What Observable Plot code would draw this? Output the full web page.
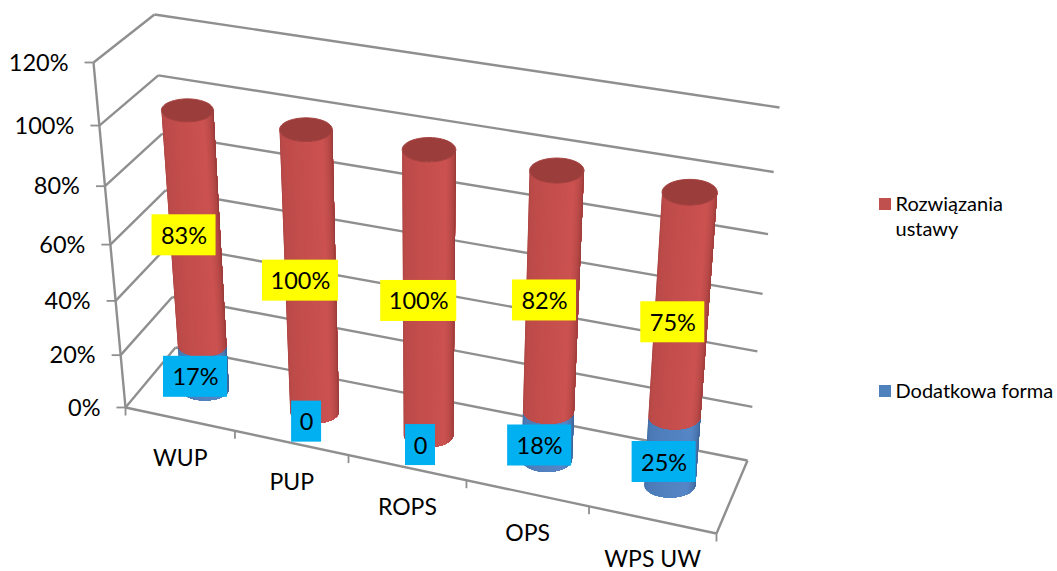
<!DOCTYPE html>
<html><head><meta charset="utf-8">
<style>html,body{margin:0;padding:0;background:#fff}svg{display:block}</style>
<script src="https://cdn.jsdelivr.net/npm/d3@7"></script>
<script src="https://cdn.jsdelivr.net/npm/@observablehq/plot@0.6"></script>
</head><body><div id="c"></div>
<script>
const categories = ["WUP", "PUP", "ROPS", "OPS", "WPS UW"];
const rozwiazania = [83, 100, 100, 82, 75];
const dodatkowa = [17, 0, 0, 18, 25];
const dodatkowaLabels = ["17%", "0", "0", "18%", "25%"];
const percentTicks = [0, 20, 40, 60, 80, 100, 120];
const legendItems = [["Rozwiązania", "ustawy"], ["Dodatkowa forma"]];

// 3D view of the chart box: corners of the floor and of the top plane
const box = {
  fl: [125, 407], fr: [716, 533], bl: [175, 347], br: [747, 460],
  tfl: [93, 62], tfr: [745, 166], tbl: [154, 14], tbr: [779, 107]
};
const lerp = (a, b, t) => [a[0] + (b[0] - a[0]) * t, a[1] + (b[1] - a[1]) * t];
const persp = (t, k) => t / (1 + k * (1 - t));
function project(u, w, pct) {
  const U = persp(u, 0.1), V = persp(pct / 120, 0.118);
  const floor = lerp(lerp(box.fl, box.fr, U), lerp(box.bl, box.br, U), w);
  const top = lerp(lerp(box.tfl, box.tfr, U), lerp(box.tbl, box.tbr, U), w);
  return lerp(floor, top, V);
}
const link = (a, b) => ({x1: a[0], y1: a[1], x2: b[0], y2: b[1]});
const colU = (i) => (i + 0.5) / categories.length;
const DEPTH = 0.49;
const COL_DX = 1.5;

// gridlines, walls, axes
const backGrid = percentTicks.map(p => link(project(0, 1, p), project(1, 1, p)));
const sideGrid = percentTicks.map(p => link(project(0, 0, p), project(0, 1, p)));
const axisLines = [
  link(project(0, 0, 0), project(0, 0, 120)),
  link(project(0, 0, 0), project(1, 0, 0)),
  link(project(1, 0, 0), project(1, 1, 0))
];
const yTicks = percentTicks.map(p => {
  const a = project(0, 0, p);
  return link([a[0] - 9, a[1]], a);
});
const xTicks = d3.range(categories.length + 1).map(i => {
  const a = project(i / categories.length, 0, 0);
  return link(a, [a[0], a[1] + 8]);
});
const yLabels = percentTicks.map(p => {
  const a = project(0, 0, p);
  return {x: a[0] - 25, y: a[1] + 0.5, text: p + "%"};
});
const xLabels = categories.map((c, i) => {
  const a = project(colU(i), 0, 0);
  return {x: a[0] + 0.5, y: a[1] + 40, text: c};
});

// cylinders
const redShade = d3.scaleLinear().domain([0, .12, .5, .72, .9, 1])
  .range(["#a84543", "#ba4a48", "#c64f4d", "#cb5250", "#ab4341", "#843533"]);
const blueShade = d3.scaleLinear().domain([0, .12, .5, .72, .9, 1])
  .range(["#3f6a9e", "#4a79b4", "#5282c0", "#5686c6", "#456fa5", "#345680"]);
const STRIPS = 32;
function ring(i, pct) {
  const [cx, cy] = project(colU(i), DEPTH, pct);
  return {cx: cx + COL_DX, cy, rx: 24 + 0.4 * i + 2 * pct / 100, ry: 11.5 + 0.35 * i};
}
const stripsData = [];
const capsData = [];
let nextId = 0;
// Each strip runs from its left edge to the column's right edge and the next
// strip paints over it, so no seams show between neighbouring strips.
function addSegment(i, p0, p1, shade) {
  if (p1 <= p0) return;
  const a = ring(i, p0), b = ring(i, p1);
  for (let s = 0; s < STRIPS; s++) {
    const color = shade((s + 0.5) / STRIPS);
    const id = nextId++;
    const ths = d3.range(s, STRIPS + 1).map(k => Math.PI * (1 - k / STRIPS));
    for (const th of ths) stripsData.push({id, color, x: a.cx + a.rx * Math.cos(th), y: a.cy + a.ry * Math.sin(th)});
    for (const th of ths.slice().reverse()) stripsData.push({id, color, x: b.cx + b.rx * Math.cos(th), y: b.cy + b.ry * Math.sin(th)});
  }
}
categories.forEach((c, i) => {
  addSegment(i, 0, dodatkowa[i], blueShade);
  addSegment(i, dodatkowa[i], dodatkowa[i] + rozwiazania[i], redShade);
  const r = ring(i, dodatkowa[i] + rozwiazania[i]);
  d3.range(49).forEach(k => {
    const th = 2 * Math.PI * k / 48;
    capsData.push({id: i, x: r.cx + r.rx * Math.cos(th), y: r.cy + r.ry * Math.sin(th)});
  });
});

// data labels: centred on their segment, with the hand placement of the original
const redNudge = [2, 2.5, 1, 4, 13];
const redNudgeX = [-3, -2, -2, 0, -1];
const blueNudge = [8.5, 9, 9, 9, 10];
function labelBox(i, text, mid, nudge, nudgeX = 0) {
  const a = project(colU(i), DEPTH, mid);
  const half = text.length >= 4 ? 38 : text.length === 3 ? 32 : 15;
  const cx = a[0] - 6.5 + nudgeX, cy = a[1] + 1 + nudge;
  return {x1: cx - half, x2: cx + half, y1: cy - 20.5, y2: cy + 20.5, x: cx, y: cy + 1, text};
}
const redLabels = categories.map((c, i) => labelBox(i, rozwiazania[i] + "%", dodatkowa[i] + rozwiazania[i] / 2, redNudge[i], redNudgeX[i]));
const blueLabels = categories.map((c, i) => labelBox(i, dodatkowaLabels[i], dodatkowa[i] > 0 ? dodatkowa[i] / 2 : 0, blueNudge[i]));

const FONT = "Lato";
const gridStyle = {stroke: "#8f8f8f", strokeWidth: 2.4, imageFilter: "blur(0.5px)"};
const px = [0, 1057], py = [0, 571];

const chart = Plot.plot({
  width: 1057, height: 571, margin: 0,
  x: {domain: px, range: px, axis: null},
  y: {domain: py, range: py, axis: null},
  color: {type: "identity"},
  style: {background: "#fff", fontFamily: FONT},
  marks: [
    Plot.link(backGrid, {x1: "x1", y1: "y1", x2: "x2", y2: "y2", ...gridStyle}),
    Plot.link(sideGrid, {x1: "x1", y1: "y1", x2: "x2", y2: "y2", ...gridStyle}),
    Plot.link(axisLines, {x1: "x1", y1: "y1", x2: "x2", y2: "y2", ...gridStyle}),
    Plot.link(yTicks, {x1: "x1", y1: "y1", x2: "x2", y2: "y2", ...gridStyle, strokeWidth: 1.8}),
    Plot.link(xTicks, {x1: "x1", y1: "y1", x2: "x2", y2: "y2", ...gridStyle, strokeWidth: 1.8}),
    Plot.line(stripsData, {x: "x", y: "y", z: "id", fill: "color", stroke: "none", curve: "linear", imageFilter: "blur(0.6px)"}),
    Plot.line(capsData, {x: "x", y: "y", z: "id", fill: "#9a3d3b", stroke: "#a54240", strokeWidth: 1, curve: "linear", imageFilter: "blur(0.5px)"}),
    Plot.rect(redLabels, {x1: "x1", x2: "x2", y1: "y1", y2: "y2", fill: "#ffff00"}),
    Plot.rect(blueLabels, {x1: "x1", x2: "x2", y1: "y1", y2: "y2", fill: "#00b0f0"}),
    Plot.text(redLabels, {x: "x", y: "y", text: "text", fontSize: 23.5, fill: "#000", fontFamily: FONT}),
    Plot.text(blueLabels, {x: "x", y: "y", text: "text", fontSize: 23.5, fill: "#000", fontFamily: FONT}),
    Plot.text(yLabels, {x: "x", y: "y", text: "text", textAnchor: "end", fontSize: 23.5, fill: "#000", fontFamily: FONT}),
    Plot.text(xLabels, {x: "x", y: "y", text: "text", fontSize: 23, fill: "#000", fontFamily: FONT}),
    // legend
    Plot.rect([{x1: 879, x2: 891, y1: 198, y2: 210}], {x1: "x1", x2: "x2", y1: "y1", y2: "y2", fill: "#c0504d"}),
    Plot.rect([{x1: 879, x2: 891, y1: 385, y2: 397}], {x1: "x1", x2: "x2", y1: "y1", y2: "y2", fill: "#4f81bd"}),
    Plot.text([{x: 895, y: 204, t: legendItems[0][0]}, {x: 895, y: 229, t: legendItems[0][1]}, {x: 895, y: 391, t: legendItems[1][0]}],
      {x: "x", y: "y", text: "t", textAnchor: "start", fontSize: 20, fill: "#000", fontFamily: FONT})
  ]
});
document.getElementById("c").append(chart);
</script></body></html>
